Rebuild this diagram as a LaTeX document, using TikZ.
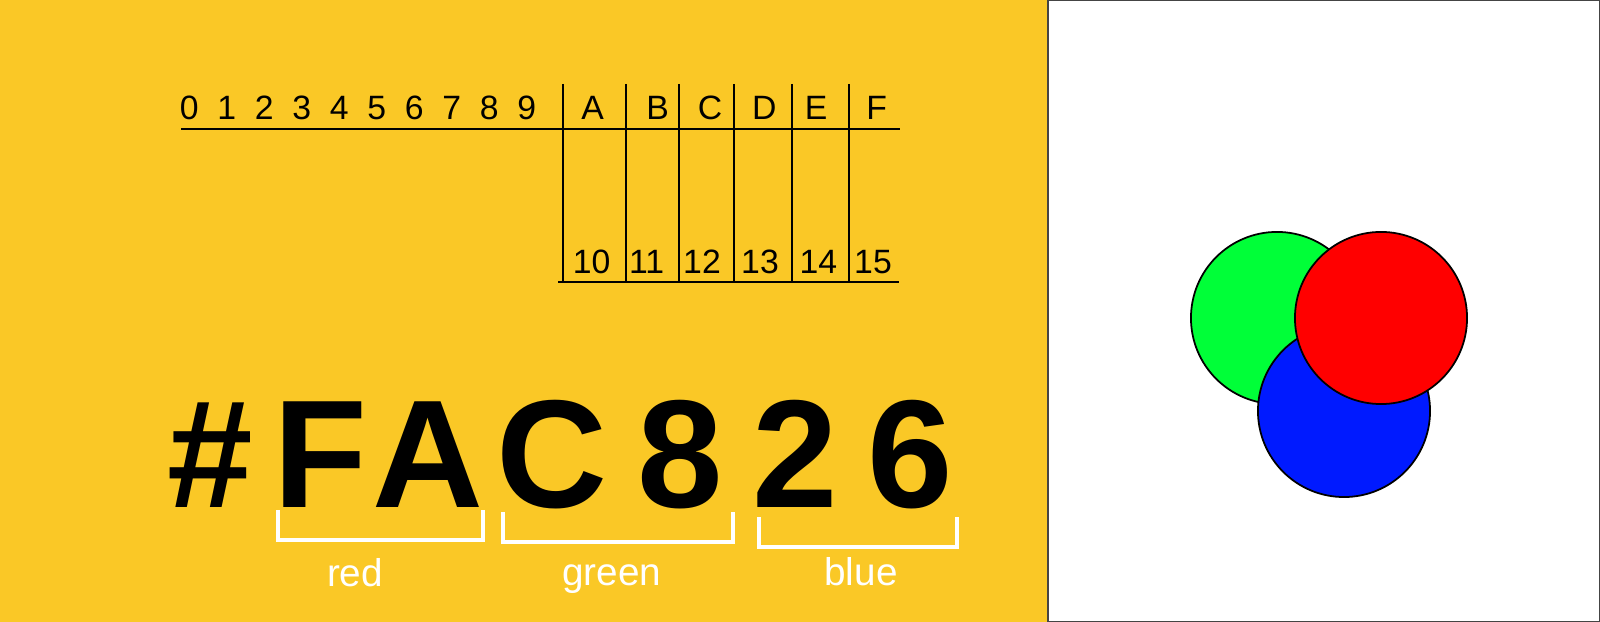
\documentclass[tikz,border=0pt]{standalone}
\usepackage{fontspec}
\setmainfont{Liberation Sans}
\definecolor{hexyellow}{HTML}{FAC826}
\definecolor{rgbgreen}{HTML}{00FF38}
\definecolor{rgbblue}{HTML}{001AFF}
\definecolor{rgbred}{HTML}{FF0000}
\definecolor{panelgray}{HTML}{444444}
\tikzset{
  tablenum/.style={anchor=base, inner sep=0pt, font=\fontsize{9.6}{11}\selectfont},
  tableline/.style={draw=black, line width=0.5pt},
  bigchar/.style={anchor=base, inner sep=0pt, font=\fontsize{43.7}{50}\selectfont\bfseries},
  channel/.style={anchor=base, inner sep=0pt, text=white, font=\fontsize{11}{13}\selectfont},
  bracketline/.style={draw=white, line width=1.4pt},
  disc/.style={draw=black, line width=0.5pt}
}
\begin{document}
\begin{tikzpicture}[x=0.01cm, y=-0.01cm]
  \fill[hexyellow] (0,0) rectangle (1600,622);
  \draw[panelgray, fill=white, line width=0.4pt] (1048,0.7) rectangle (1599.3,621.3);

  % hex digits table
  \foreach \d in {0,...,9}
    \node[tablenum] (d\d) at ({189.3+37.5*\d},119.3) {\d};
  \foreach \l/\xl/\n/\xn in {A/592.7/10/591.7, B/657.7/11/646.7, C/710/12/702,
                             D/764.3/13/760, E/816/14/818.3, F/876.7/15/873}
  {
    \node[tablenum] (hex\l) at (\xl,119.3) {\l};
    \node[tablenum] (dec\n) at (\xn,273.3) {\n};
  }
  \draw[tableline] (181,129) -- (900,129);
  \draw[tableline] (558,281.7) -- (899,281.7);
  \foreach \x in {562.7,625.7,679.3,734.3,791.7,849.3}
    \draw[tableline] (\x,84) -- (\x,281.7);

  % the colour code
  \node[bigchar] (hash) at (210,508) {\#};
  \foreach \c/\x in {F/320, A/428.3, C/551.7, 8/680, 2/795, 6/910}
    \node[bigchar] (big\c) at (\x,508) {\c};

  \draw[bracketline] (278,510) -- (278,540) -- (483,540) -- (483,510);
  \draw[bracketline] (503,512) -- (503,542) -- (733,542) -- (733,512);
  \draw[bracketline] (759,517) -- (759,547) -- (957,547) -- (957,517);
  \node[channel] (red)   at (355,587) {red};
  \node[channel] (green) at (611.7,586) {green};
  \node[channel] (blue)  at (861,586) {blue};

  % mixing discs
  \draw[disc, fill=rgbgreen] (1277,318) circle[radius=0.86cm];
  \draw[disc, fill=rgbblue]  (1344,411) circle[radius=0.86cm];
  \draw[disc, fill=rgbred]   (1381,318) circle[radius=0.86cm];
\end{tikzpicture}
\end{document}
